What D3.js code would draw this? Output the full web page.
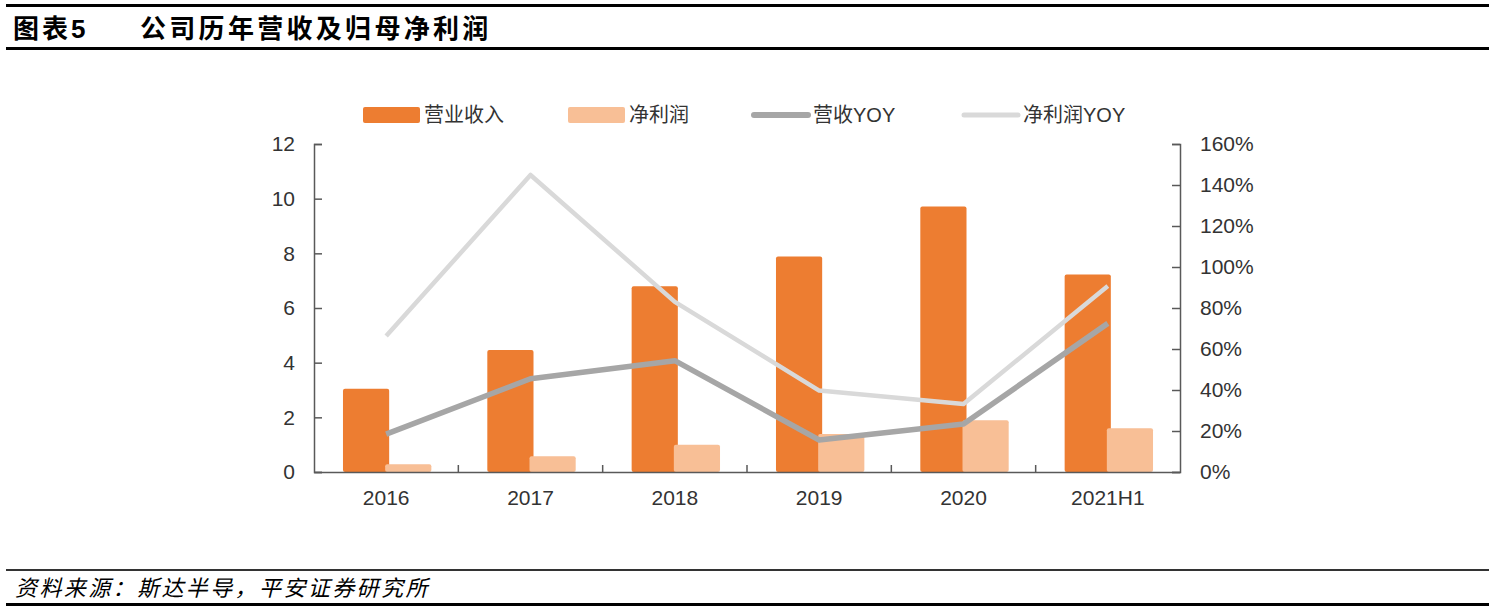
<!DOCTYPE html>
<html>
<head>
<meta charset="utf-8">
<script src="https://cdn.jsdelivr.net/npm/d3@7"></script>
<style>
    body { margin: 0; background: #fff; }
    svg { display: block; }
    text { font-family: "Liberation Sans", Arial, "Noto Sans CJK SC", sans-serif; }
</style>
</head>
<body>
<div id="chart"></div>
<script>
// Data
const categories = ["2016", "2017", "2018", "2019", "2020", "2021H1"];
const revenue = [3.05, 4.46, 6.8, 7.88, 9.71, 7.23];       // 营业收入 (亿元)
const netProfit = [0.28, 0.58, 1.0, 1.39, 1.89, 1.6];       // 净利润
const revenueYoy = [18.5, 45.5, 54.3, 15.6, 23.4, 72.5];    // 营收YOY %
const profitYoy = [66.3, 144.9, 83.0, 39.7, 33.2, 90.7];    // 净利润YOY %
const leftTicks = [0, 2, 4, 6, 8, 10, 12];
const rightTicks = [0, 20, 40, 60, 80, 100, 120, 140, 160];

const width = 1496, height = 615;
const margin = { top: 144, right: 316, bottom: 143, left: 314 };
const chartW = width - margin.left - margin.right;
const chartH = height - margin.top - margin.bottom;

const colors = {
    revenue: "#ED7D31",
    profit: "#F8BF96",
    revYoy: "#A6A6A6",
    proYoy: "#D9D9D9",
    axis: "#595959",
    label: "#333333"
};

const svg = d3.select("#chart")
    .append("svg")
    .attr("width", width)
    .attr("height", height);

// Header & footer rules
const rules = [
    { y: 5.5, w: 3, c: "#000" },
    { y: 48.5, w: 3, c: "#000" },
    { y: 570, w: 2, c: "#333" },
    { y: 604.5, w: 3, c: "#000" }
];
svg.selectAll(".rule")
    .data(rules)
    .join("line")
    .attr("class", "rule")
    .attr("x1", 6).attr("x2", 1489)
    .attr("y1", d => d.y).attr("y2", d => d.y)
    .attr("stroke", d => d.c)
    .attr("stroke-width", d => d.w);

svg.append("text")
    .attr("x", 13).attr("y", 38)
    .attr("font-size", "26px").attr("font-weight", "bold")
    .attr("letter-spacing", "3px")
    .text("图表5");
svg.append("text")
    .attr("x", 140).attr("y", 38)
    .attr("font-size", "26px").attr("font-weight", "bold")
    .attr("letter-spacing", "3.3px")
    .text("公司历年营收及归母净利润");

svg.append("text")
    .attr("x", 15).attr("y", 596)
    .attr("font-size", "22px").attr("font-style", "italic")
    .attr("letter-spacing", "2.4px")
    .text("资料来源：斯达半导，平安证券研究所");

const g = svg.append("g")
    .attr("transform", `translate(${margin.left}, ${margin.top})`);

const x = d3.scaleBand().domain(categories).range([0, chartW]).padding(0);
const yLeft = d3.scaleLinear().domain([0, 12]).range([chartH, 0]);
const yRight = d3.scaleLinear().domain([0, 160]).range([chartH, 0]);
const center = d => x(d) + x.bandwidth() / 2;

const barW = x.bandwidth() * 0.32;
const overlap = 4;

// Bars
const rows = categories.map((c, i) => ({ cat: c, rev: revenue[i], pro: netProfit[i] }));

g.selectAll(".bar-rev")
    .data(rows)
    .join("rect")
    .attr("class", "bar-rev")
    .attr("x", d => center(d.cat) - barW + overlap / 2 + 1)
    .attr("y", d => yLeft(d.rev))
    .attr("width", barW)
    .attr("height", d => chartH - yLeft(d.rev))
    .attr("rx", 2)
    .attr("fill", colors.revenue);

g.selectAll(".bar-pro")
    .data(rows)
    .join("rect")
    .attr("class", "bar-pro")
    .attr("x", d => center(d.cat) - overlap / 2 + 1)
    .attr("y", d => yLeft(d.pro))
    .attr("width", barW)
    .attr("height", d => chartH - yLeft(d.pro))
    .attr("rx", 2)
    .attr("fill", colors.profit);

// Axes
const axisLeft = g.append("g")
    .call(d3.axisLeft(yLeft).tickValues(leftTicks).tickSize(-8).tickPadding(19));
const axisRight = g.append("g")
    .attr("transform", `translate(${chartW}, 0)`)
    .call(d3.axisRight(yRight).tickValues(rightTicks).tickSize(-8).tickPadding(20)
        .tickFormat(d => d + "%"));
const axisBottom = g.append("g")
    .attr("transform", `translate(0, ${chartH})`)
    .call(d3.axisBottom(x).tickSize(0).tickPadding(18));

[axisLeft, axisRight, axisBottom].forEach(a => {
    a.select(".domain").attr("stroke", colors.axis).attr("stroke-width", 1.5);
    a.selectAll(".tick line").attr("stroke", colors.axis).attr("stroke-width", 1.5);
    a.selectAll("text").attr("font-size", "21px").attr("fill", colors.label)
        .attr("font-family", "'Liberation Sans', Arial, sans-serif");
});

// category boundary ticks on the bottom axis
g.selectAll(".cat-tick")
    .data(categories.slice(1))
    .join("line")
    .attr("class", "cat-tick")
    .attr("x1", d => x(d)).attr("x2", d => x(d))
    .attr("y1", chartH).attr("y2", chartH - 7)
    .attr("stroke", colors.axis)
    .attr("stroke-width", 1.5);

// Lines
const lineGen = yScale => d3.line()
    .x(d => center(d.cat))
    .y(d => yScale(d.v));

const proYoyData = categories.map((c, i) => ({ cat: c, v: profitYoy[i] }));
const revYoyData = categories.map((c, i) => ({ cat: c, v: revenueYoy[i] }));

g.append("path")
    .datum(proYoyData)
    .attr("fill", "none")
    .attr("stroke", colors.proYoy)
    .attr("stroke-width", 4.5)
    .attr("stroke-linejoin", "round")
    .attr("d", lineGen(yRight));

g.append("path")
    .datum(revYoyData)
    .attr("fill", "none")
    .attr("stroke", colors.revYoy)
    .attr("stroke-width", 5.5)
    .attr("stroke-linejoin", "round")
    .attr("d", lineGen(yRight));

// Legend
const legendItems = [
    { name: "营业收入", type: "rect", color: colors.revenue, x: 363 },
    { name: "净利润", type: "rect", color: colors.profit, x: 568 },
    { name: "营收YOY", type: "line", color: colors.revYoy, x: 752, w: 6 },
    { name: "净利润YOY", type: "line", color: colors.proYoy, x: 962, w: 5 }
];
const legend = svg.append("g").attr("class", "legend");
const li = legend.selectAll(".legend-item")
    .data(legendItems)
    .join("g")
    .attr("class", "legend-item")
    .attr("transform", d => `translate(${d.x}, 115)`);

li.filter(d => d.type === "rect").append("rect")
    .attr("x", 0).attr("y", -8)
    .attr("width", 57).attr("height", 16)
    .attr("rx", 2)
    .attr("fill", d => d.color);

li.filter(d => d.type === "line").append("line")
    .attr("x1", 2).attr("x2", 56)
    .attr("y1", 0).attr("y2", 0)
    .attr("stroke", d => d.color)
    .attr("stroke-width", d => d.w)
    .attr("stroke-linecap", "round");

li.append("text")
    .attr("x", 61).attr("y", 7)
    .attr("font-size", "20px")
    .attr("fill", colors.label)
    .text(d => d.name);
</script>
</body>
</html>
